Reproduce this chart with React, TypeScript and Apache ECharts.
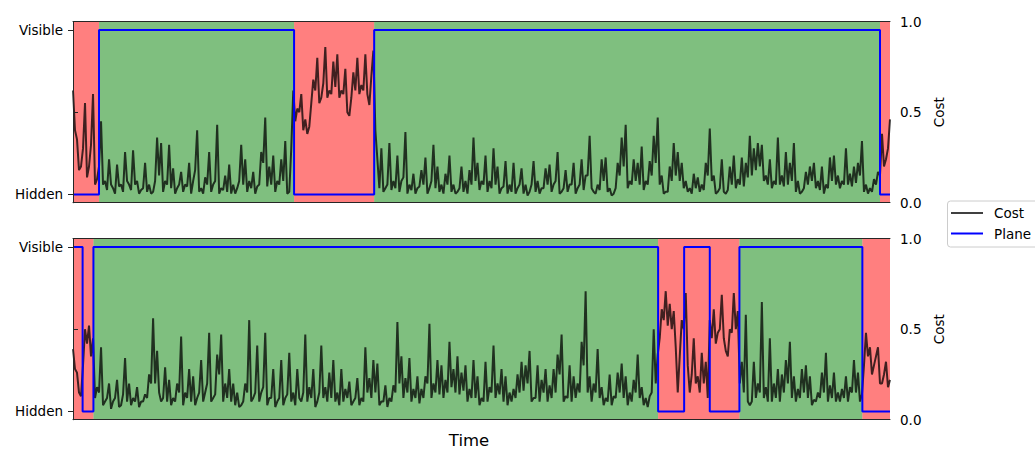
import { useEffect, useRef } from "react";
import * as echarts from "echarts";

const TIME_MAX = 204;

// Cost read at whole time steps
const topCost = [
  0.62, 0.35, 0.2, 0.55, 0.2, 0.6, 0.13, 0.45, 0.12, 0.24,
  0.08, 0.21, 0.1, 0.28, 0.1, 0.29, 0.12, 0.07, 0.22, 0.1,
  0.06, 0.36, 0.33, 0.12, 0.32, 0.19, 0.08, 0.17, 0.1, 0.22,
  0.12, 0.4, 0.08, 0.14, 0.28, 0.1, 0.43, 0.08, 0.15, 0.21,
  0.1, 0.08, 0.32, 0.24, 0.12, 0.17, 0.09, 0.28, 0.47, 0.2,
  0.26, 0.12, 0.24, 0.34, 0.06, 0.62, 0.52, 0.6, 0.46, 0.42,
  0.68, 0.8, 0.58, 0.86, 0.62, 0.78, 0.82, 0.62, 0.74, 0.48,
  0.72, 0.8, 0.65, 0.82, 0.54, 0.84, 0.24, 0.3, 0.08, 0.33,
  0.12, 0.26, 0.12, 0.39, 0.1, 0.16, 0.08, 0.18, 0.25, 0.08,
  0.32, 0.2, 0.1, 0.16, 0.26, 0.1, 0.06, 0.2, 0.12, 0.18,
  0.36, 0.22, 0.12, 0.26, 0.12, 0.3, 0.2, 0.08, 0.23, 0.1,
  0.22, 0.08, 0.19, 0.1, 0.06, 0.23, 0.12, 0.08, 0.19, 0.21,
  0.1, 0.28, 0.06, 0.18, 0.1, 0.22, 0.08, 0.24, 0.15, 0.37,
  0.06, 0.1, 0.24, 0.25, 0.08, 0.05, 0.22, 0.36, 0.43, 0.12,
  0.24, 0.22, 0.31, 0.12, 0.23, 0.37, 0.47, 0.15, 0.06, 0.2,
  0.33, 0.28, 0.22, 0.12, 0.08, 0.16, 0.14, 0.1, 0.22, 0.41,
  0.15, 0.06, 0.24, 0.05, 0.2, 0.26, 0.13, 0.25, 0.22, 0.37,
  0.3, 0.33, 0.32, 0.15, 0.24, 0.12, 0.36, 0.15, 0.28, 0.22,
  0.33, 0.12, 0.06, 0.17, 0.2, 0.22, 0.12, 0.2, 0.1, 0.25,
  0.26, 0.15, 0.12, 0.3, 0.16, 0.2, 0.22, 0.34, 0.1, 0.08,
  0.13, 0.17, 0.38, 0.24, 0.46,
];

// Cost read half-way between whole time steps
const topCostHalf = [
  0.4, 0.18, 0.3, 0.14, 0.32, 0.1, 0.2, 0.1, 0.07, 0.1,
  0.05, 0.09, 0.06, 0.12, 0.07, 0.1, 0.05, 0.08, 0.06, 0.05,
  0.12, 0.15, 0.06, 0.1, 0.08, 0.05, 0.1, 0.06, 0.09, 0.05,
  0.18, 0.06, 0.05, 0.1, 0.06, 0.12, 0.05, 0.07, 0.06, 0.05,
  0.05, 0.12, 0.1, 0.06, 0.08, 0.05, 0.1, 0.22, 0.09, 0.1,
  0.06, 0.1, 0.12, 0.05, 0.3, 0.45, 0.5, 0.4, 0.38, 0.55,
  0.62, 0.55, 0.66, 0.58, 0.6, 0.64, 0.58, 0.6, 0.5, 0.58,
  0.62, 0.6, 0.62, 0.6, 0.7, 0.4, 0.08, 0.06, 0.1, 0.07,
  0.08, 0.06, 0.14, 0.05, 0.07, 0.05, 0.09, 0.1, 0.05, 0.12,
  0.08, 0.06, 0.05, 0.1, 0.06, 0.05, 0.08, 0.06, 0.05, 0.1,
  0.12, 0.07, 0.1, 0.06, 0.08, 0.1, 0.05, 0.09, 0.05, 0.06,
  0.05, 0.1, 0.05, 0.04, 0.1, 0.06, 0.05, 0.08, 0.1, 0.06,
  0.12, 0.05, 0.08, 0.06, 0.1, 0.05, 0.1, 0.07, 0.15, 0.08,
  0.05, 0.07, 0.12, 0.06, 0.04, 0.08, 0.15, 0.2, 0.08, 0.1,
  0.12, 0.1, 0.07, 0.1, 0.15, 0.22, 0.1, 0.05, 0.06, 0.12,
  0.15, 0.12, 0.08, 0.06, 0.05, 0.08, 0.06, 0.07, 0.15, 0.12,
  0.05, 0.08, 0.06, 0.07, 0.1, 0.08, 0.1, 0.09, 0.14, 0.15,
  0.18, 0.2, 0.12, 0.1, 0.08, 0.1, 0.1, 0.09, 0.1, 0.12,
  0.06, 0.05, 0.08, 0.1, 0.12, 0.08, 0.07, 0.05, 0.08, 0.12,
  0.1, 0.08, 0.1, 0.1, 0.09, 0.11, 0.15, 0.06, 0.05, 0.06,
  0.1, 0.15, 0.2, 0.3,
];

const bottomCost = [
  0.39, 0.26, 0.13, 0.5, 0.52, 0.45, 0.18, 0.4, 0.1, 0.2,
  0.1, 0.22, 0.08, 0.34, 0.2, 0.12, 0.18, 0.1, 0.14, 0.25,
  0.56, 0.38, 0.1, 0.29, 0.22, 0.12, 0.2, 0.46, 0.15, 0.28,
  0.24, 0.12, 0.33, 0.15, 0.48, 0.12, 0.36, 0.47, 0.2, 0.28,
  0.2, 0.15, 0.08, 0.2, 0.55, 0.12, 0.41, 0.15, 0.48, 0.12,
  0.28, 0.1, 0.33, 0.12, 0.37, 0.15, 0.28, 0.1, 0.47, 0.18,
  0.28, 0.1, 0.41, 0.18, 0.26, 0.33, 0.15, 0.28, 0.17, 0.21,
  0.1, 0.23, 0.12, 0.4, 0.23, 0.33, 0.31, 0.1, 0.19, 0.12,
  0.19, 0.54, 0.35, 0.23, 0.34, 0.17, 0.24, 0.17, 0.24, 0.53,
  0.2, 0.33, 0.3, 0.22, 0.43, 0.28, 0.35, 0.26, 0.3, 0.17,
  0.33, 0.24, 0.12, 0.32, 0.18, 0.41, 0.2, 0.28, 0.24, 0.15,
  0.17, 0.25, 0.32, 0.3, 0.38, 0.12, 0.3, 0.22, 0.28, 0.19,
  0.28, 0.36, 0.47, 0.13, 0.3, 0.24, 0.2, 0.43, 0.71, 0.24,
  0.2, 0.39, 0.18, 0.12, 0.25, 0.13, 0.26, 0.31, 0.24, 0.15,
  0.22, 0.36, 0.18, 0.12, 0.13, 0.5, 0.36, 0.61, 0.71, 0.64,
  0.6, 0.15, 0.55, 0.7, 0.15, 0.45, 0.24, 0.37, 0.32, 0.55,
  0.61, 0.48, 0.69, 0.38, 0.5, 0.7, 0.6, 0.32, 0.58, 0.08,
  0.32, 0.2, 0.65, 0.18, 0.45, 0.2, 0.28, 0.25, 0.33, 0.43,
  0.24, 0.17, 0.28, 0.3, 0.24, 0.11, 0.15, 0.26, 0.37, 0.19,
  0.26, 0.15, 0.17, 0.24, 0.18, 0.33, 0.26, 0.14, 0.48, 0.4,
  0.3, 0.4, 0.2, 0.32, 0.22,
];

const bottomCostHalf = [
  0.28, 0.15, 0.3, 0.42, 0.35, 0.12, 0.15, 0.08, 0.12, 0.06,
  0.12, 0.07, 0.14, 0.1, 0.08, 0.1, 0.07, 0.1, 0.12, 0.2,
  0.2, 0.15, 0.12, 0.1, 0.08, 0.1, 0.15, 0.08, 0.12, 0.1,
  0.08, 0.15, 0.1, 0.2, 0.1, 0.14, 0.25, 0.1, 0.12, 0.1,
  0.08, 0.07, 0.1, 0.15, 0.1, 0.15, 0.1, 0.18, 0.08, 0.12,
  0.07, 0.12, 0.08, 0.14, 0.1, 0.08, 0.12, 0.15, 0.1, 0.12,
  0.07, 0.15, 0.12, 0.1, 0.12, 0.1, 0.08, 0.1, 0.12, 0.08,
  0.12, 0.08, 0.1, 0.15, 0.12, 0.15, 0.08, 0.1, 0.07, 0.1,
  0.15, 0.2, 0.12, 0.15, 0.1, 0.12, 0.09, 0.12, 0.2, 0.12,
  0.15, 0.14, 0.12, 0.15, 0.18, 0.15, 0.14, 0.16, 0.1, 0.12,
  0.12, 0.08, 0.1, 0.1, 0.15, 0.12, 0.14, 0.1, 0.08, 0.1,
  0.12, 0.15, 0.16, 0.2, 0.1, 0.12, 0.1, 0.15, 0.1, 0.12,
  0.15, 0.25, 0.1, 0.12, 0.1, 0.12, 0.15, 0.3, 0.15, 0.1,
  0.15, 0.12, 0.08, 0.1, 0.08, 0.12, 0.15, 0.12, 0.08, 0.1,
  0.15, 0.12, 0.08, 0.07, 0.15, 0.2, 0.45, 0.55, 0.52, 0.5,
  0.4, 0.35, 0.5, 0.3, 0.25, 0.2, 0.15, 0.2, 0.12, 0.45,
  0.42, 0.5, 0.45, 0.35, 0.48, 0.5, 0.2, 0.15, 0.1, 0.1,
  0.12, 0.15, 0.12, 0.1, 0.1, 0.12, 0.1, 0.15, 0.2, 0.12,
  0.1, 0.12, 0.15, 0.12, 0.08, 0.1, 0.12, 0.15, 0.1, 0.12,
  0.1, 0.1, 0.12, 0.1, 0.15, 0.15, 0.1, 0.3, 0.35, 0.25,
  0.35, 0.2, 0.25, 0.18,
];

// Plane state (0 = Hidden, 1 = Visible): starting state and switch times
const topPlaneStart = 0;
const topPlaneSwitches = [6.5, 55.2, 75.2, 201.5];
const bottomPlaneStart = 1;
const bottomPlaneSwitches = [2.4, 5.1, 146.1, 152.6, 159, 166.4, 197.1];

// Background shading: spans that are shaded red; the rest is green
const topHiddenSpans = [[0, 6.5], [55.2, 75.2], [201.5, 204]];
const bottomHiddenSpans = [[0, 5.1], [146.1, 166.4], [197.1, 204]];

const planeTickValues = [0, 1];
const planeTickLabels = ["Hidden", "Visible"];
const costTickInterval = 0.5;

const FONT = "DejaVu Sans";
const RED = "rgba(255,0,0,0.5)";
const GREEN = "rgba(0,128,0,0.5)";
const COST_COLOR = "rgba(0,0,0,0.75)";
const PLANE_COLOR = "#0000ff";
const SPINE = "#262626";

function interleave(whole: number[], half: number[]) {
  const pts: number[][] = [];
  whole.forEach((v, i) => {
    pts.push([i, v]);
    if (i < whole.length - 1 && i < half.length) pts.push([i + 0.5, half[i]]);
  });
  return pts;
}

function planeSteps(start: number, switches: number[], end: number) {
  const pts: number[][] = [[0, start]];
  let s = start;
  for (const t of switches) {
    pts.push([t, s]);
    s = 1 - s;
    pts.push([t, s]);
  }
  pts.push([end, s]);
  return pts;
}

function shading(hidden: number[][], end: number) {
  const areas: any[] = [];
  let cursor = 0;
  for (const [a, b] of hidden) {
    if (a > cursor) areas.push([{ xAxis: cursor, itemStyle: { color: GREEN } }, { xAxis: a }]);
    areas.push([{ xAxis: a, itemStyle: { color: RED } }, { xAxis: b }]);
    cursor = b;
  }
  if (cursor < end) areas.push([{ xAxis: cursor, itemStyle: { color: GREEN } }, { xAxis: end }]);
  return areas;
}

function buildOption() {
  const grids = [
    { left: 73, top: 21.7, width: 817, height: 181 },
    { left: 73, top: 238.7, width: 817, height: 181 },
  ];
  const xAxes: any[] = [];
  const yAxes: any[] = [];
  grids.forEach((_, g) => {
    const base = {
      type: "value",
      gridIndex: g,
      min: 0,
      max: TIME_MAX,
      axisLine: { show: true, onZero: false, lineStyle: { color: SPINE, width: 1 } },
      axisTick: { show: false },
      axisLabel: { show: false },
      splitLine: { show: false },
      z: 10,
    };
    xAxes.push({ ...base, position: "bottom" });
    xAxes.push({ ...base, position: "top" });
    yAxes.push({
      type: "value",
      gridIndex: g,
      position: "left",
      min: -0.05,
      max: 1.05,
      axisLine: { show: true, lineStyle: { color: SPINE, width: 1 } },
      axisTick: { show: true, length: 5, customValues: planeTickValues, lineStyle: { color: SPINE, width: 1 } },
      axisLabel: {
        customValues: planeTickValues,
        formatter: (v: number) => {
          const k = planeTickValues.indexOf(v);
          return k >= 0 ? planeTickLabels[k] : "";
        },
        margin: 10,
        fontSize: 13.5,
        fontFamily: FONT,
        color: "#000",
      },
      splitLine: { show: false },
      z: 10,
    });
    yAxes.push({
      type: "value",
      gridIndex: g,
      position: "right",
      min: 0,
      max: 1,
      interval: costTickInterval,
      name: "Cost",
      nameLocation: "middle",
      nameRotate: 90,
      nameGap: 34,
      nameTextStyle: { fontSize: 13.5, fontFamily: FONT, color: "#000" },
      axisLine: { show: true, lineStyle: { color: SPINE, width: 1 } },
      axisTick: { show: true, length: 5, lineStyle: { color: SPINE, width: 1 } },
      axisLabel: {
        formatter: (v: number) => v.toFixed(1),
        margin: 10,
        fontSize: 13.5,
        fontFamily: FONT,
        color: "#000",
      },
      splitLine: { show: false },
      z: 10,
    });
  });

  const panels = [
    { cost: interleave(topCost, topCostHalf), start: topPlaneStart, switches: topPlaneSwitches, hidden: topHiddenSpans },
    { cost: interleave(bottomCost, bottomCostHalf), start: bottomPlaneStart, switches: bottomPlaneSwitches, hidden: bottomHiddenSpans },
  ];
  const series: any[] = [];
  panels.forEach((p, g) => {
    series.push({
      name: "Cost",
      type: "line",
      xAxisIndex: g * 2,
      yAxisIndex: g * 2 + 1,
      data: p.cost,
      showSymbol: false,
      symbol: "none",
      lineStyle: { color: COST_COLOR, width: 2 },
      itemStyle: { color: COST_COLOR },
      z: 3,
      markArea: { silent: true, data: shading(p.hidden, TIME_MAX) },
    });
    series.push({
      name: "Plane",
      type: "line",
      xAxisIndex: g * 2,
      yAxisIndex: g * 2,
      data: planeSteps(p.start, p.switches, TIME_MAX),
      showSymbol: false,
      symbol: "none",
      lineStyle: { color: PLANE_COLOR, width: 2 },
      itemStyle: { color: PLANE_COLOR },
      z: 4,
    });
  });

  const graphic: any[] = [
    {
      type: "text",
      x: 469,
      y: 440.5,
      style: { text: "Time", align: "center", verticalAlign: "middle", fontSize: 16.5, fontFamily: FONT, fill: "#000" },
    },
    {
      type: "rect",
      shape: { x: 947.5, y: 201, width: 120, height: 46, r: 3 },
      style: { fill: "rgba(255,255,255,0.8)", stroke: "#cccccc", lineWidth: 1 },
    },
    {
      type: "line",
      shape: { x1: 951, y1: 213, x2: 983, y2: 213 },
      style: { stroke: COST_COLOR, lineWidth: 2 },
    },
    {
      type: "line",
      shape: { x1: 951, y1: 233.5, x2: 983, y2: 233.5 },
      style: { stroke: PLANE_COLOR, lineWidth: 2 },
    },
    {
      type: "text",
      x: 994,
      y: 213,
      style: { text: "Cost", verticalAlign: "middle", fontSize: 13.5, fontFamily: FONT, fill: "#000" },
    },
    {
      type: "text",
      x: 994,
      y: 233.5,
      style: { text: "Plane", verticalAlign: "middle", fontSize: 13.5, fontFamily: FONT, fill: "#000" },
    },
  ];

  return {
    animation: false,
    backgroundColor: "#ffffff",
    textStyle: { fontFamily: FONT },
    grid: grids.map((g) => ({ ...g, containLabel: false, outerBoundsMode: "none" })),
    xAxis: xAxes,
    yAxis: yAxes,
    series,
    graphic,
  };
}

export default function App() {
  const ref = useRef<HTMLDivElement>(null);
  useEffect(() => {
    if (!ref.current) return;
    const chart = echarts.init(ref.current, null, { renderer: "svg" });
    chart.setOption(buildOption() as any);
    return () => chart.dispose();
  }, []);
  return (
    <div
      ref={ref}
      style={{ position: "fixed", left: 0, top: 0, width: 1035, height: 450, background: "#fff" }}
    />
  );
}
